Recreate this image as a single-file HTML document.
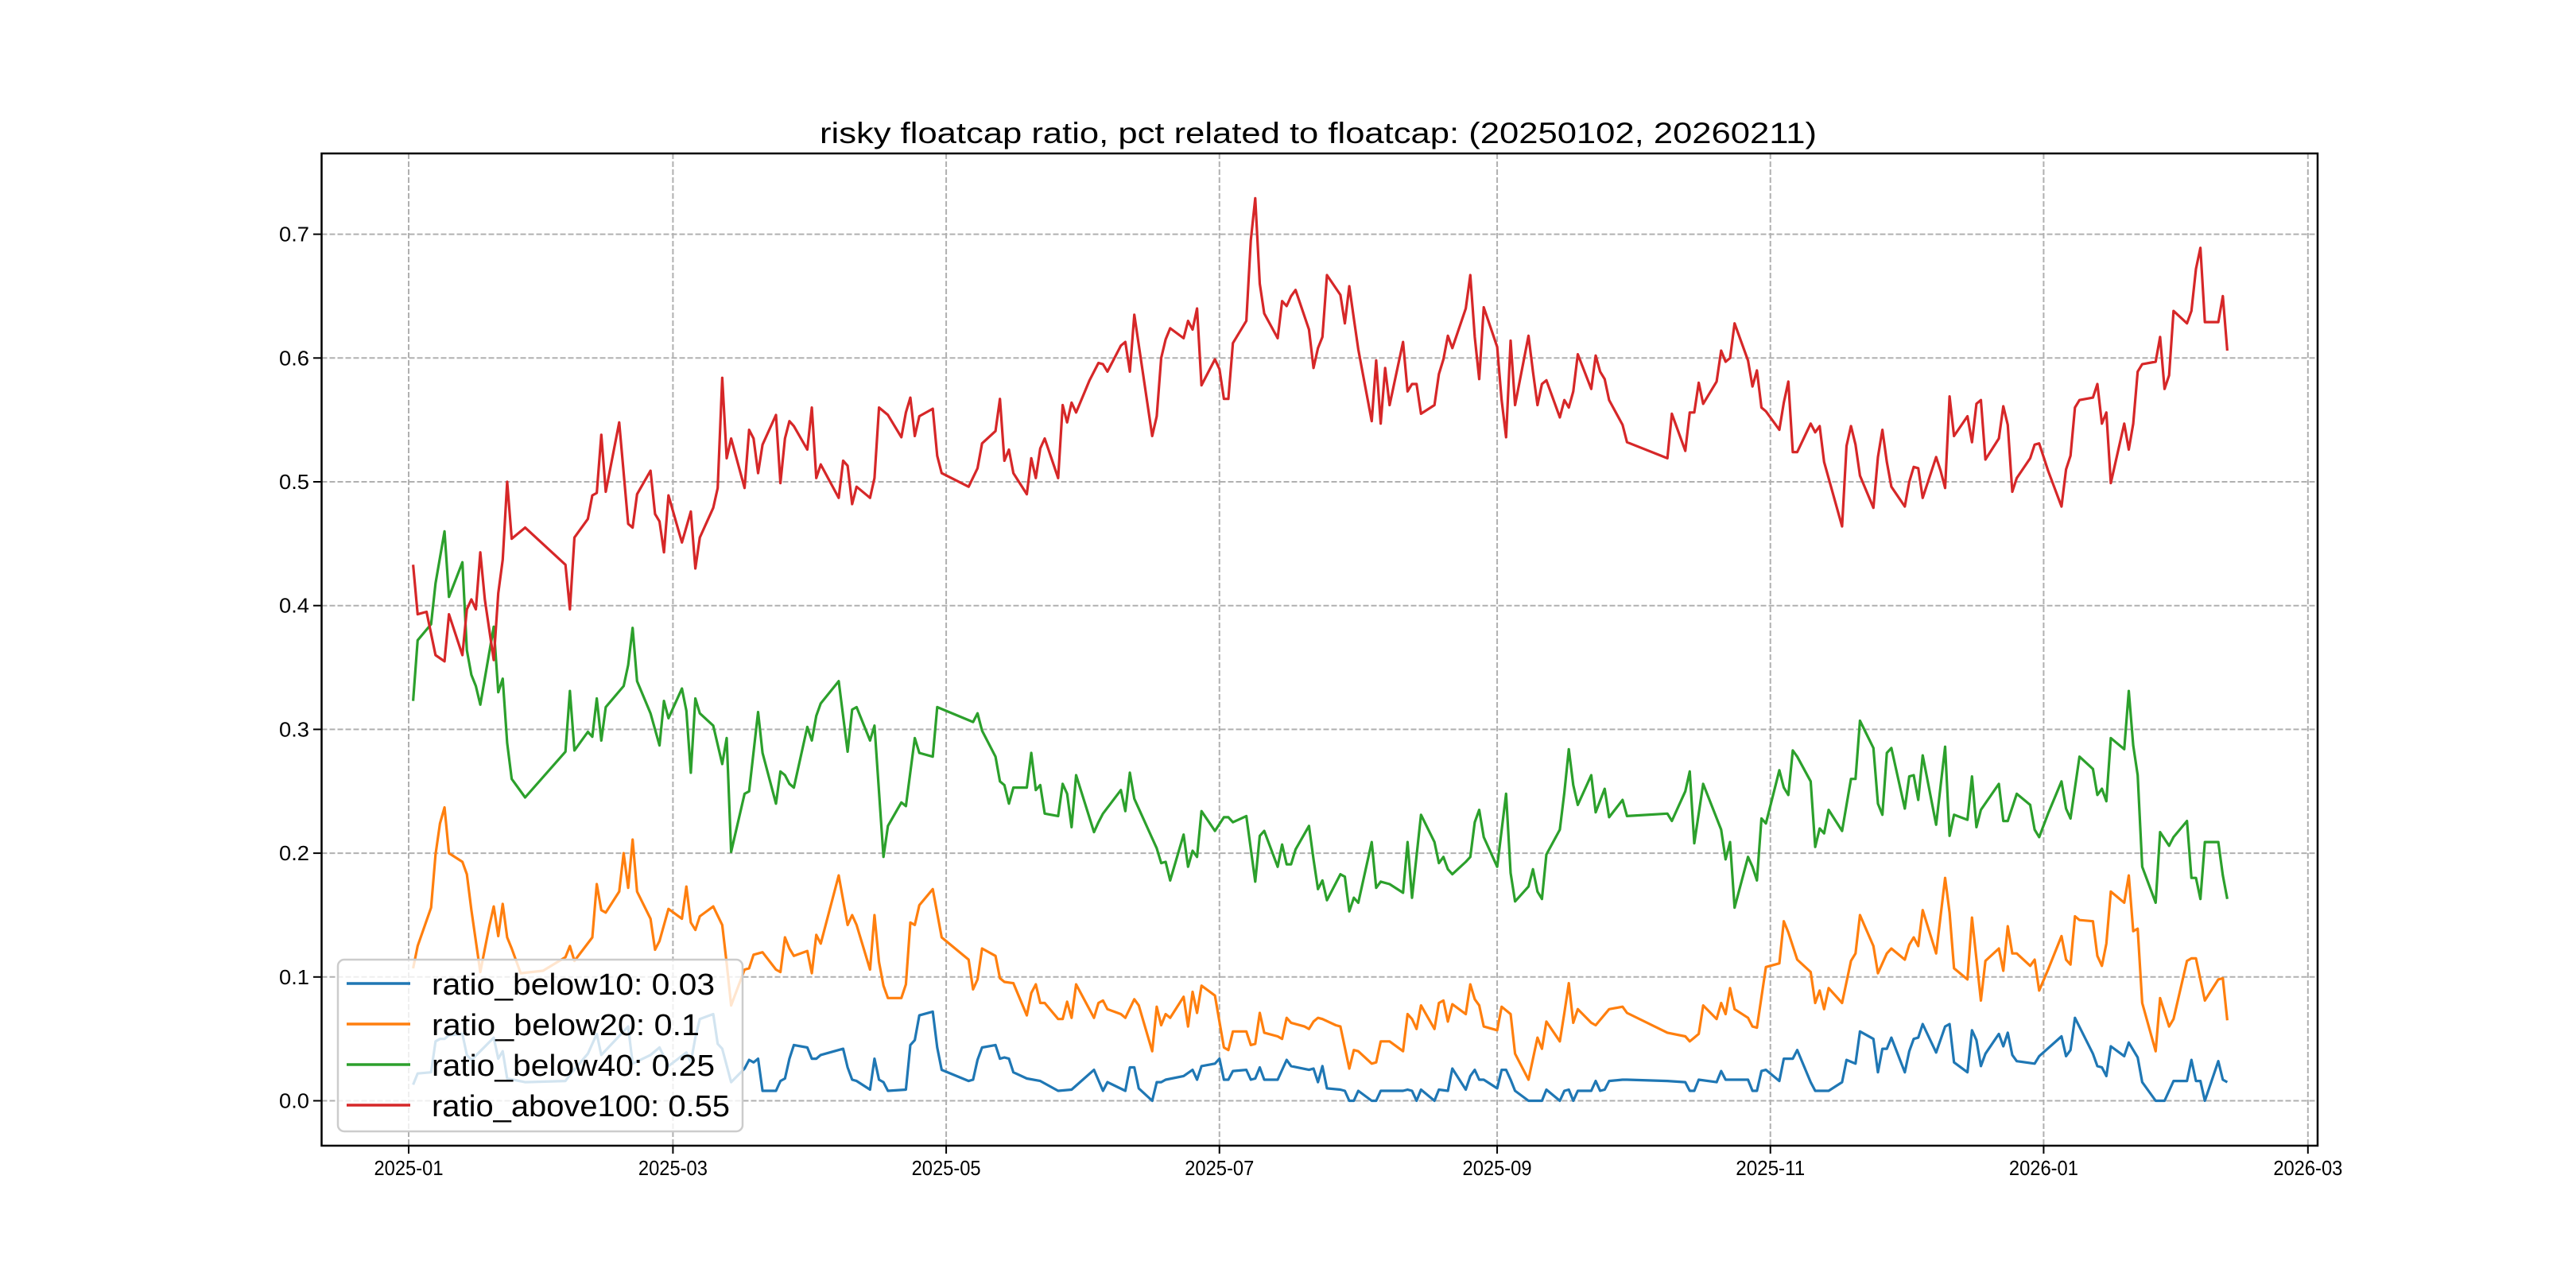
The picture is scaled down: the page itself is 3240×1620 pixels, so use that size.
<!DOCTYPE html>
<html><head><meta charset="utf-8">
<style>html,body{margin:0;padding:0;background:#fff;}svg{display:block;}</style>
</head><body>
<svg id="chart" width="3240" height="1620" viewBox="0 0 3240 1620" xmlns="http://www.w3.org/2000/svg">
<rect x="0" y="0" width="3240" height="1620" fill="#fff"/>
<text x="1031" y="180" font-family="Liberation Sans, sans-serif" font-size="37" textLength="1254" lengthAdjust="spacingAndGlyphs" fill="#000">risky floatcap ratio, pct related to floatcap: (20250102, 20260211)</text>
<g id="grid"></g>
<defs><clipPath id="plotclip"><rect x="404.5" y="193" width="2510.5" height="1248"/></clipPath></defs>
<g id="series" clip-path="url(#plotclip)"></g>
<rect x="404.5" y="193" width="2510.5" height="1248" fill="none" stroke="#000" stroke-width="2.5"/>
<g id="ticks"></g>
<g id="legend"></g>
</svg>
<script>
const yTicks=[0,0.1,0.2,0.3,0.4,0.5,0.6,0.7];
const yTickLabels=["0.0","0.1","0.2","0.3","0.4","0.5","0.6","0.7"];
const xTickDays=[0,59,120,181,243,304,365,424];
const xTickLabels=["2025-01","2025-03","2025-05","2025-07","2025-09","2025-11","2026-01","2026-03"];
const seriesNames=["ratio_below10: 0.03","ratio_below20: 0.1","ratio_below40: 0.25","ratio_above100: 0.55"];

const redDays=[1,2,4,6,8,9,12,13,14,15,16,17,19,20,21,22,23,26,35,36,37,40,41,42,43,44,47,49,50,51,54,55,56,57,58,61,63,64,65,68,69,70,71,72,75,76,77,78,79,82,83,84,85,86,89,90,91,92,96,97,98,99,100,103,104,105,107,110,111,112,113,114,117,118,119,125,127,128,131,132,133,134,135,138,139,140,141,142,145,146,147,148,149,152,154,155,156,159,160,161,162,166,167,168,169,170,173,174,175,176,177,180,181,182,183,184,187,188,189,190,191,194,195,196,197,198,201,202,203,204,205,208,209,210,211,212,215,216,217,218,219,222,223,224,225,226,229,230,231,232,233,236,237,238,239,240,243,244,245,246,247,250,251,252,253,254,257,258,259,260,261,264,265,266,267,268,271,272,281,282,285,286,287,288,289,292,293,294,295,296,299,300,301,302,303,306,307,308,309,310,313,314,315,316,320,321,322,323,324,327,328,329,330,331,334,335,336,337,338,341,342,343,344,345,348,349,350,351,352,355,356,357,358,359,362,363,364,366,369,370,371,372,373,376,377,378,379,380,383,384,385,386,387,390,391,392,393,394,397,398,399,400,401,404,405,406];
const redVals=[.433,.393,.395,.36,.355,.393,.36,.397,.405,.397,.443,.405,.356,.41,.437,.5,.454,.463,.433,.397,.455,.47,.489,.491,.538,.492,.548,.466,.463,.49,.509,.474,.468,.443,.489,.451,.476,.43,.455,.479,.495,.584,.519,.535,.495,.542,.535,.507,.53,.554,.499,.535,.549,.545,.526,.56,.503,.514,.487,.517,.513,.482,.496,.487,.503,.56,.554,.536,.556,.568,.537,.553,.559,.521,.507,.496,.511,.531,.541,.567,.517,.526,.507,.49,.519,.503,.527,.535,.503,.562,.548,.564,.556,.582,.596,.595,.589,.61,.613,.589,.635,.537,.553,.6,.615,.624,.616,.63,.623,.64,.578,.599,.591,.567,.567,.612,.63,.695,.729,.66,.636,.616,.646,.642,.65,.655,.623,.592,.608,.617,.667,.651,.628,.658,.632,.607,.549,.598,.547,.592,.562,.613,.573,.579,.579,.555,.562,.587,.599,.618,.608,.64,.667,.617,.583,.641,.609,.566,.536,.614,.562,.618,.589,.562,.579,.582,.552,.566,.56,.573,.603,.575,.602,.589,.583,.566,.546,.532,.519,.555,.525,.556,.556,.58,.563,.581,.606,.597,.6,.628,.598,.577,.59,.56,.557,.542,.564,.581,.524,.524,.547,.54,.545,.516,.464,.529,.545,.53,.505,.479,.52,.542,.516,.496,.48,.5,.512,.511,.487,.52,.509,.495,.569,.537,.553,.532,.563,.566,.518,.535,.561,.546,.492,.503,.519,.53,.531,.509,.48,.51,.521,.56,.566,.568,.579,.547,.556,.499,.547,.526,.547,.589,.595,.597,.617,.575,.586,.638,.628,.638,.672,.689,.629,.629,.65,.606];

const greenDays=[1,2,5,6,8,9,12,13,14,15,16,19,20,21,22,23,26,35,36,37,40,41,42,43,44,48,49,50,51,54,56,57,58,61,62,63,64,65,68,70,71,72,75,76,78,79,82,83,84,85,86,89,90,91,92,96,98,99,100,103,104,106,107,110,111,113,114,117,118,126,127,128,131,132,133,134,135,138,139,140,141,142,145,146,147,148,149,153,154,155,159,160,161,162,166,167,168,169,170,173,174,175,176,177,180,182,183,184,187,189,190,191,194,195,196,197,198,201,202,203,204,205,208,209,210,211,212,215,216,217,219,222,223,224,226,229,230,231,232,233,236,237,238,239,240,243,245,246,247,250,251,252,253,254,257,258,259,260,261,264,265,267,268,271,272,281,282,285,286,287,289,293,294,295,296,299,300,301,302,303,306,307,308,309,310,313,314,315,316,317,320,322,323,324,327,328,329,330,331,334,335,336,337,338,341,343,344,345,348,349,350,351,355,356,357,359,362,363,364,366,369,370,371,373,376,377,378,379,380,383,384,385,386,387,390,391,393,394,397,398,399,400,401,404,405,406];
const greenVals=[.323,.372,.385,.418,.46,.407,.435,.364,.344,.335,.32,.383,.33,.341,.289,.26,.245,.282,.331,.283,.298,.294,.325,.291,.318,.335,.352,.382,.339,.313,.287,.323,.309,.333,.315,.265,.325,.313,.303,.272,.293,.201,.248,.25,.314,.281,.24,.266,.263,.256,.253,.302,.291,.311,.321,.339,.282,.316,.318,.291,.303,.197,.222,.241,.238,.293,.281,.278,.318,.306,.313,.299,.278,.258,.255,.24,.253,.253,.281,.251,.255,.232,.23,.256,.248,.221,.263,.217,.225,.232,.251,.234,.265,.244,.212,.204,.192,.193,.178,.215,.189,.202,.197,.234,.218,.229,.229,.225,.23,.177,.214,.218,.189,.207,.191,.191,.203,.222,.195,.171,.178,.162,.183,.181,.153,.164,.16,.209,.172,.177,.175,.168,.209,.164,.231,.209,.192,.197,.187,.183,.193,.197,.225,.235,.213,.189,.248,.184,.161,.173,.187,.169,.163,.199,.219,.249,.284,.255,.239,.263,.233,.252,.229,.243,.23,.232,.226,.25,.266,.208,.256,.219,.195,.209,.156,.197,.189,.178,.228,.224,.267,.253,.247,.283,.278,.258,.205,.22,.216,.235,.218,.26,.26,.307,.285,.24,.231,.281,.285,.236,.262,.263,.243,.279,.223,.286,.214,.231,.227,.262,.221,.235,.256,.226,.226,.248,.239,.219,.213,.232,.258,.236,.228,.278,.268,.247,.252,.242,.293,.284,.331,.287,.263,.189,.16,.217,.206,.213,.226,.18,.18,.163,.209,.209,.182,.163];

const orangeDays=[1,2,5,6,7,8,9,12,13,14,16,18,19,20,21,22,23,25,30,35,36,37,41,42,43,44,47,48,49,50,51,54,55,56,58,61,62,63,64,65,68,70,71,72,75,76,77,79,82,83,84,85,86,89,90,91,92,96,98,99,100,103,104,105,106,107,110,111,112,113,114,117,119,125,126,127,128,131,132,133,135,138,139,140,141,142,145,146,147,148,149,153,154,155,156,159,160,162,163,166,167,168,169,170,173,174,175,176,177,180,182,183,184,187,188,189,190,191,194,195,196,197,200,201,202,203,204,207,208,210,211,212,215,216,217,219,222,223,224,225,226,229,230,231,232,233,236,237,238,239,240,243,244,245,246,247,250,252,253,254,257,258,259,260,261,264,265,268,271,272,281,285,286,287,288,289,292,293,294,295,296,299,300,301,303,306,307,308,310,313,314,315,316,317,320,322,323,324,327,328,330,331,334,335,336,337,338,341,343,344,345,348,349,351,352,355,356,357,358,359,362,363,364,366,369,370,371,372,373,376,377,378,379,380,383,384,385,386,387,390,391,393,394,397,398,399,401,404,405,406];
const orangeVals=[.107,.125,.156,.199,.224,.237,.2,.193,.183,.154,.104,.141,.157,.133,.159,.132,.123,.103,.105,.116,.125,.113,.132,.175,.154,.152,.169,.2,.172,.211,.169,.147,.122,.129,.155,.147,.173,.144,.138,.149,.157,.142,.111,.077,.106,.107,.118,.12,.106,.104,.132,.123,.117,.121,.103,.134,.127,.182,.142,.15,.142,.106,.15,.112,.093,.083,.083,.094,.144,.142,.158,.171,.132,.114,.09,.098,.123,.117,.099,.096,.095,.069,.087,.094,.079,.079,.066,.066,.08,.067,.094,.067,.079,.081,.074,.07,.067,.082,.077,.04,.076,.061,.07,.067,.084,.06,.088,.071,.093,.085,.043,.041,.056,.056,.045,.046,.071,.055,.052,.05,.067,.063,.06,.058,.064,.067,.066,.061,.06,.026,.041,.04,.03,.031,.048,.048,.04,.07,.066,.058,.077,.058,.079,.081,.064,.078,.07,.094,.082,.077,.06,.057,.076,.073,.07,.038,.017,.051,.042,.064,.048,.071,.095,.063,.074,.063,.061,.074,.076,.071,.055,.052,.048,.051,.054,.077,.066,.079,.07,.091,.074,.067,.06,.059,.108,.111,.145,.136,.114,.104,.079,.089,.074,.091,.079,.113,.119,.15,.125,.103,.119,.123,.114,.126,.132,.125,.154,.119,.18,.152,.107,.098,.148,.081,.113,.123,.105,.141,.119,.119,.109,.114,.089,.106,.133,.114,.11,.149,.146,.145,.117,.109,.127,.169,.16,.182,.137,.139,.079,.04,.083,.06,.066,.113,.115,.115,.081,.098,.099,.065];

const blueDays=[1,2,5,6,7,8,9,12,13,14,16,19,20,21,22,26,35,36,40,42,43,49,50,54,56,58,62,63,64,65,68,69,70,72,75,76,77,78,79,82,83,84,85,86,89,90,91,92,97,98,99,100,103,104,105,106,107,111,112,113,114,117,118,119,125,126,127,128,131,132,133,134,135,138,141,145,148,153,155,156,160,161,162,163,166,167,168,169,173,175,176,177,180,181,182,183,184,187,188,189,190,191,194,196,197,201,202,203,204,205,208,209,210,211,212,215,216,217,222,223,224,225,226,229,230,232,233,236,237,238,239,240,243,244,245,246,247,250,253,254,257,258,259,260,261,264,265,266,267,268,271,272,281,285,286,287,288,292,293,294,296,299,300,301,302,303,306,307,309,310,313,314,317,320,321,323,324,327,328,329,330,331,334,335,336,337,338,341,343,344,345,348,349,350,351,352,355,356,357,358,359,363,364,369,370,371,372,376,377,378,379,380,383,384,386,387,390,392,393,394,397,398,399,400,401,404,405,406];
const blueVals=[.013,.022,.023,.048,.05,.05,.053,.054,.037,.033,.04,.051,.034,.04,.018,.015,.016,.021,.038,.054,.037,.06,.03,.037,.043,.028,.039,.031,.051,.066,.07,.046,.042,.015,.026,.033,.031,.034,.008,.008,.016,.018,.034,.045,.043,.034,.034,.037,.042,.027,.017,.016,.009,.034,.017,.015,.008,.009,.045,.049,.069,.072,.043,.025,.016,.017,.033,.043,.045,.034,.035,.034,.023,.018,.016,.008,.009,.025,.008,.015,.008,.027,.027,.01,0,.015,.015,.017,.02,.025,.017,.028,.03,.034,.017,.017,.024,.025,.017,.018,.027,.017,.017,.033,.028,.025,.026,.015,.028,.01,.009,.008,0,0,.008,0,0,.008,.008,.009,.008,0,.009,0,.009,.008,.026,.009,.02,.025,.017,.017,.01,.025,.025,.017,.008,0,0,.009,0,.008,.009,0,.008,.008,.016,.008,.009,.016,.017,.017,.016,.015,.008,.008,.017,.015,.024,.017,.017,.017,.008,.008,.024,.025,.016,.034,.034,.041,.015,.008,.008,.015,.033,.03,.056,.05,.023,.042,.042,.051,.023,.04,.05,.051,.062,.039,.06,.062,.031,.023,.057,.049,.028,.038,.054,.044,.055,.037,.032,.03,.036,.052,.036,.041,.067,.038,.028,.027,.02,.044,.036,.047,.035,.015,0,0,.008,.016,.016,.033,.016,.016,0,.032,.017,.015];

const NS='http://www.w3.org/2000/svg';
const X0=514, DAYPX=5.634, Y0=1384.5, YPX=1557;
function xOf(d){return X0+d*DAYPX;}
function yOf(v){return Y0-v*YPX;}
function mk(tag,attrs,parent){const e=document.createElementNS(NS,tag);for(const k in attrs)e.setAttribute(k,attrs[k]);parent.appendChild(e);return e;}
const grid=document.getElementById('grid'), ticks=document.getElementById('ticks'), series=document.getElementById('series'), legend=document.getElementById('legend');
const FONT='Liberation Sans, sans-serif';

yTicks.forEach((v,i)=>{
  const y=yOf(v);
  const g=mk('line',{x1:404.5,x2:2915,y1:y,y2:y,stroke:'#b0b0b0','stroke-width':2,'stroke-dasharray':'7,3'},grid);
  
  
  const t=mk('line',{x1:394,x2:404.5,y1:y,y2:y,stroke:'#000','stroke-width':2},ticks);
  
  
  const l=mk('text',{x:389,y:y+9,'text-anchor':'end','font-family':FONT,'font-size':26,textLength:38,lengthAdjust:'spacingAndGlyphs',fill:'#000'},ticks);
  l.textContent=yTickLabels[i];
  
  
});
xTickDays.forEach((d,i)=>{
  const x=xOf(d);
  const g=mk('line',{x1:x,x2:x,y1:193,y2:1441,stroke:'#b0b0b0','stroke-width':2,'stroke-dasharray':'7,3'},grid);
  
  
  const t=mk('line',{x1:x,x2:x,y1:1441,y2:1451,stroke:'#000','stroke-width':2},ticks);
  
  
  const l=mk('text',{x:x,y:1478,'text-anchor':'middle','font-family':FONT,'font-size':26,textLength:87,lengthAdjust:'spacingAndGlyphs',fill:'#000'},ticks);
  l.textContent=xTickLabels[i];
  
  
});

const allSeries=[[blueDays,blueVals,'#1f77b4','line-ratio-below10'],[orangeDays,orangeVals,'#ff7f0e','line-ratio-below20'],[greenDays,greenVals,'#2ca02c','line-ratio-below40'],[redDays,redVals,'#d62728','line-ratio-above100']];
allSeries.forEach(s=>{
  const pts=s[0].map((d,i)=>xOf(d).toFixed(1)+','+yOf(s[1][i]).toFixed(1)).join(' ');
  const p=mk('polyline',{points:pts,fill:'none',stroke:s[2],'stroke-width':3.2,'stroke-linejoin':'round'},series);
  
  
});

const box=mk('rect',{x:425,y:1207,width:509,height:216,rx:8,fill:'#fff','fill-opacity':0.8,stroke:'#cccccc','stroke-width':2.5},legend);


const legY=[1237,1288,1339,1390], legLen=[356,337,356,375];
seriesNames.forEach((n,i)=>{
  const ln=mk('line',{x1:436,x2:516,y1:legY[i],y2:legY[i],stroke:allSeries[i][2],'stroke-width':3.5},legend);
  
  
  const t=mk('text',{x:543,y:legY[i]+14,'font-family':FONT,'font-size':38,textLength:legLen[i],lengthAdjust:'spacingAndGlyphs',fill:'#000'},legend);
  t.textContent=n;
  
  
});
</script>
</body></html>
